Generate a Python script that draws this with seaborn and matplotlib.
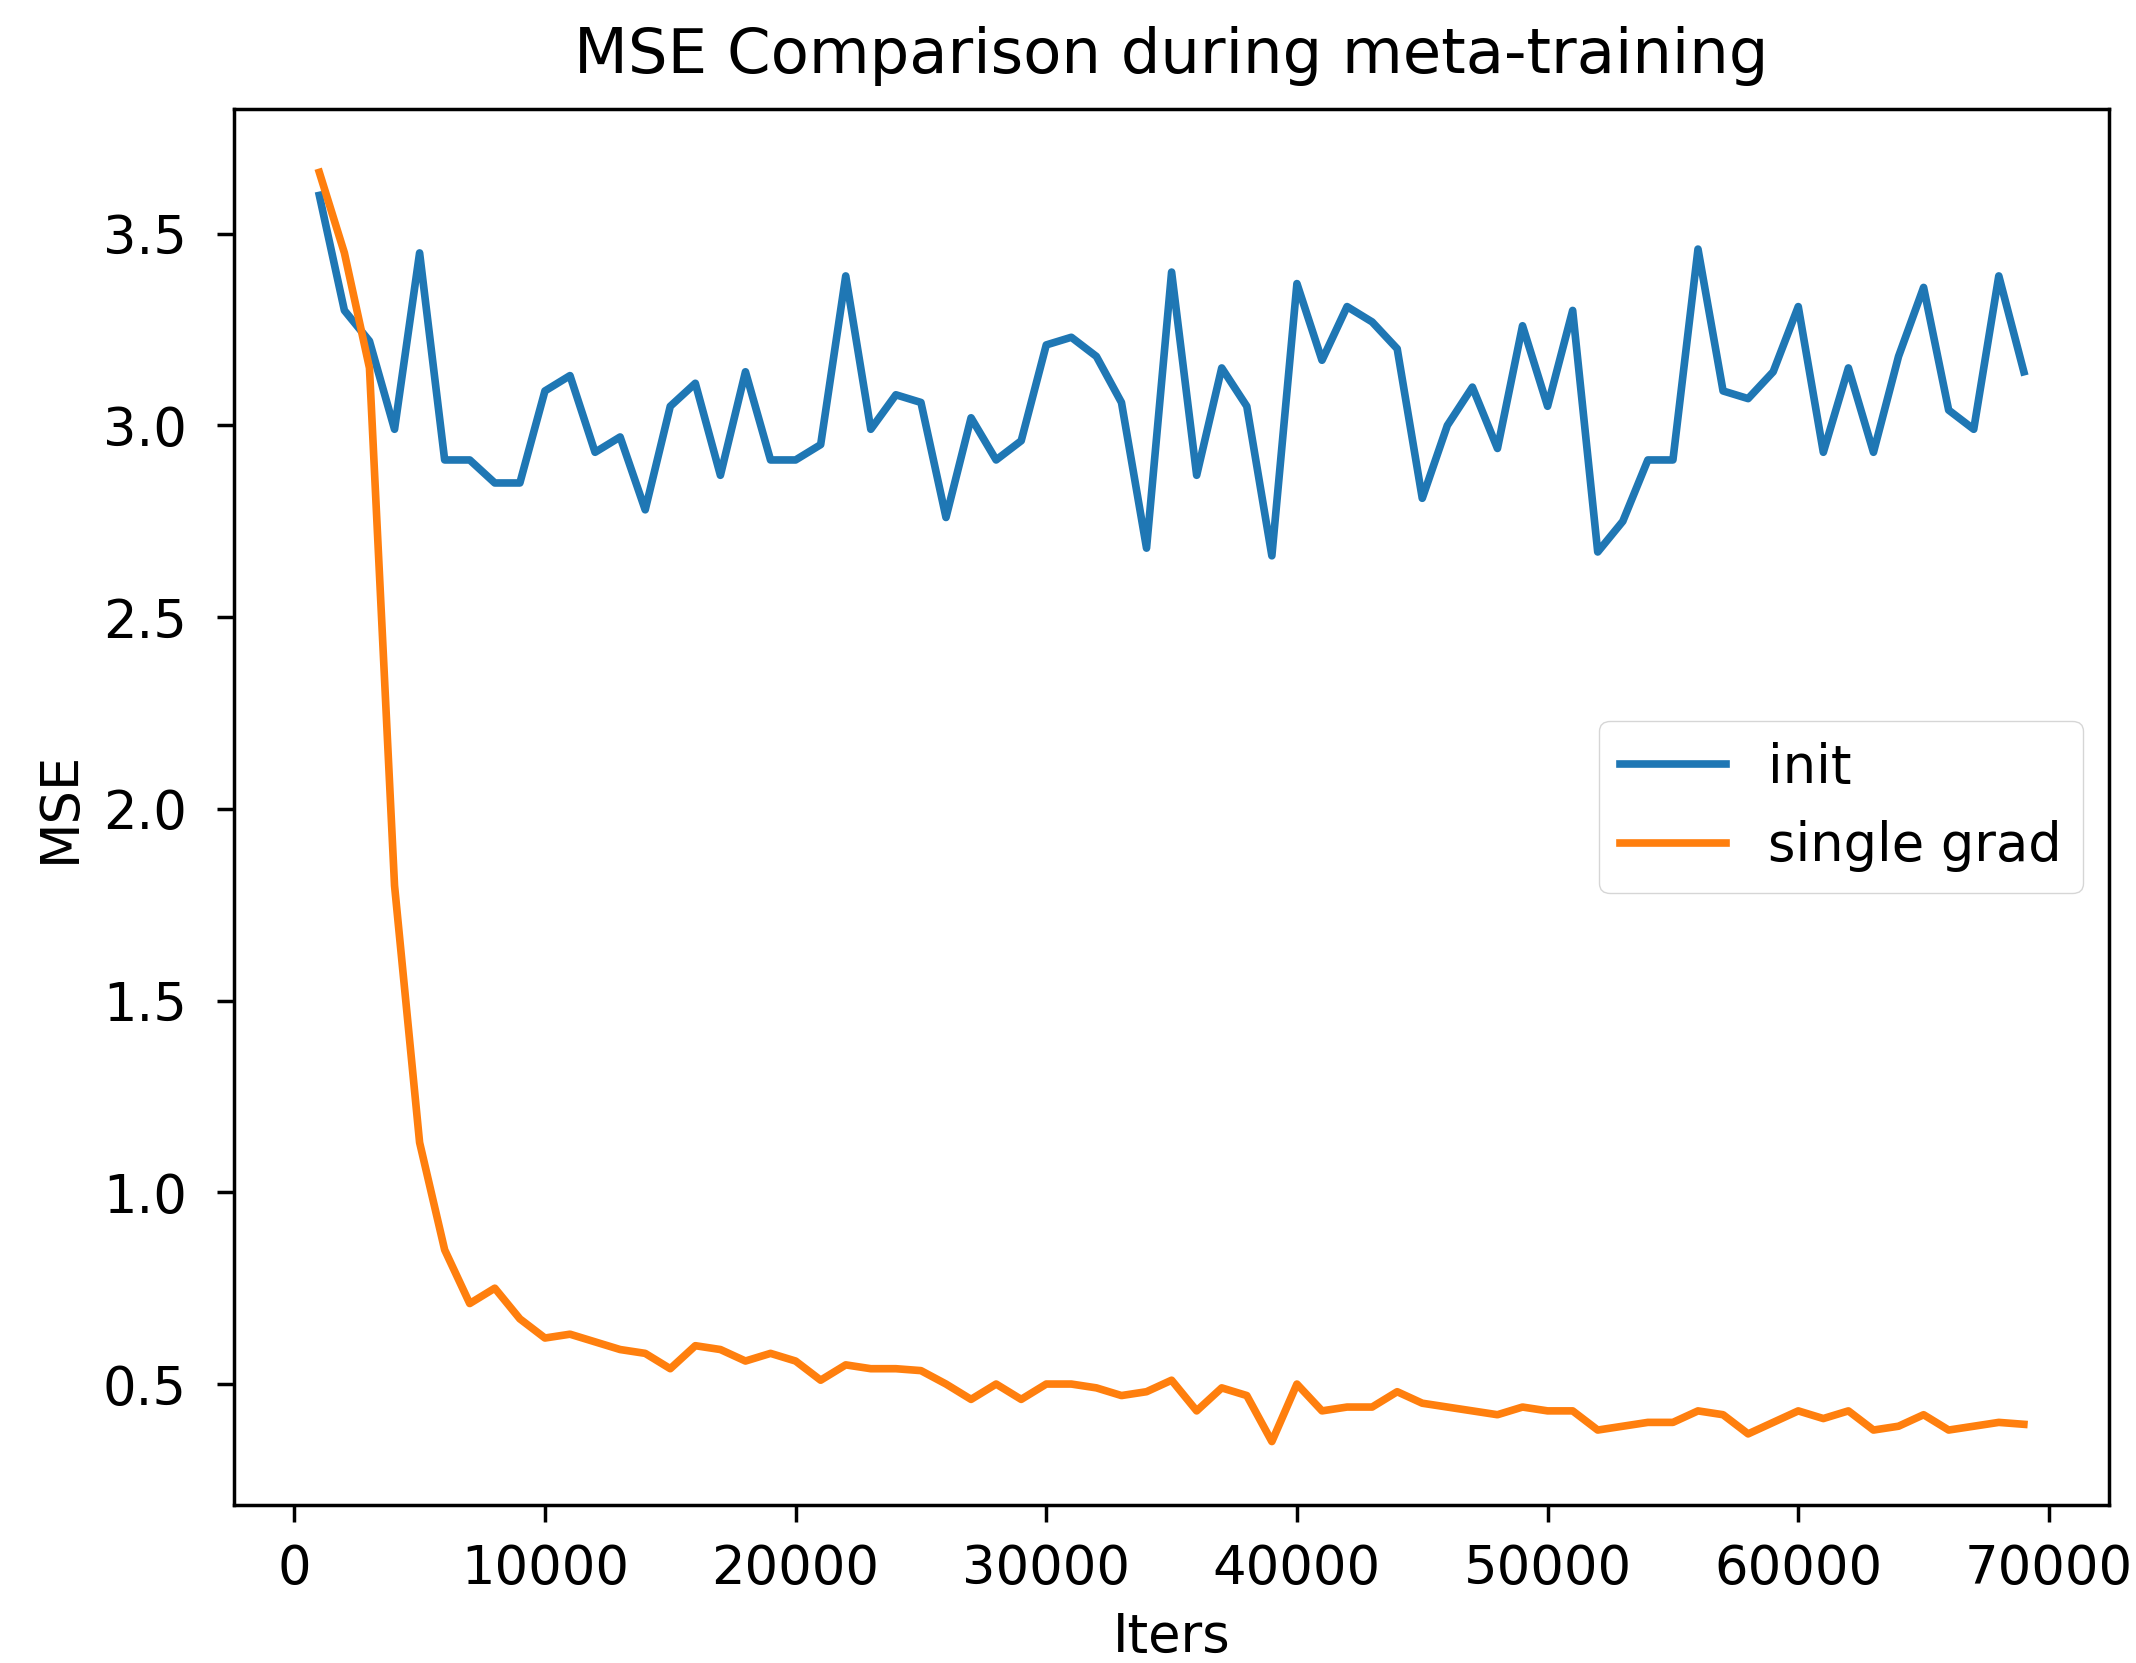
import numpy as np
import pandas as pd
import matplotlib
matplotlib.use("Agg")
import matplotlib.pyplot as plt
import seaborn as sns

iters = list(range(1000, 70000, 1000))

init_mse = [3.60, 3.30, 3.22, 2.99, 3.45, 2.91, 2.91, 2.85, 2.85, 3.09,
            3.13, 2.93, 2.97, 2.78, 3.05, 3.11, 2.87, 3.14, 2.91, 2.91,
            2.95, 3.39, 2.99, 3.08, 3.06, 2.76, 3.02, 2.91, 2.96, 3.21,
            3.23, 3.18, 3.06, 2.68, 3.40, 2.87, 3.15, 3.05, 2.66, 3.37,
            3.17, 3.31, 3.27, 3.20, 2.81, 3.00, 3.10, 2.94, 3.26, 3.05,
            3.30, 2.67, 2.75, 2.91, 2.91, 3.46, 3.09, 3.07, 3.14, 3.31,
            2.93, 3.15, 2.93, 3.18, 3.36, 3.04, 2.99, 3.39, 3.14]

single_grad_mse = [3.66, 3.45, 3.15, 1.80, 1.13, 0.85, 0.71, 0.75, 0.67, 0.62,
                   0.63, 0.61, 0.59, 0.58, 0.54, 0.60, 0.59, 0.56, 0.58, 0.56,
                   0.51, 0.55, 0.54, 0.54, 0.535, 0.50, 0.46, 0.50, 0.46, 0.50,
                   0.50, 0.49, 0.47, 0.48, 0.51, 0.43, 0.49, 0.47, 0.35, 0.50,
                   0.43, 0.44, 0.44, 0.48, 0.45, 0.44, 0.43, 0.42, 0.44, 0.43,
                   0.43, 0.38, 0.39, 0.40, 0.40, 0.43, 0.42, 0.37, 0.40, 0.43,
                   0.41, 0.43, 0.38, 0.39, 0.42, 0.38, 0.39, 0.40, 0.395]

series_labels = ["init", "single grad"]
colors = ["#1f77b4", "#ff7f0e"]

plt.rcParams['font.family'] = ['DejaVu Sans']
fs = 38

fig = plt.figure(figsize=(21.36, 16.63), dpi=100)
ax = fig.add_axes([0.1096, 0.095, 0.8778, 0.8395])

sns.lineplot(x=iters, y=init_mse, ax=ax, color=colors[0], label=series_labels[0], linewidth=5.5)
sns.lineplot(x=iters, y=single_grad_mse, ax=ax, color=colors[1], label=series_labels[1], linewidth=5.5)

ax.set_title("MSE Comparison during meta-training", fontsize=45, pad=26)
ax.set_xlabel("Iters", fontsize=fs, labelpad=12)
ax.set_ylabel("MSE", fontsize=fs, labelpad=12)
ax.tick_params(labelsize=fs, length=12, width=2.5)
ax.tick_params(axis="x", pad=15)
ax.tick_params(axis="y", pad=22)
for s in ax.spines.values():
    s.set_linewidth(2.5)
ax.legend(loc="center right", fontsize=fs, handlelength=2.0)

fig.savefig("out.png", dpi=100)
